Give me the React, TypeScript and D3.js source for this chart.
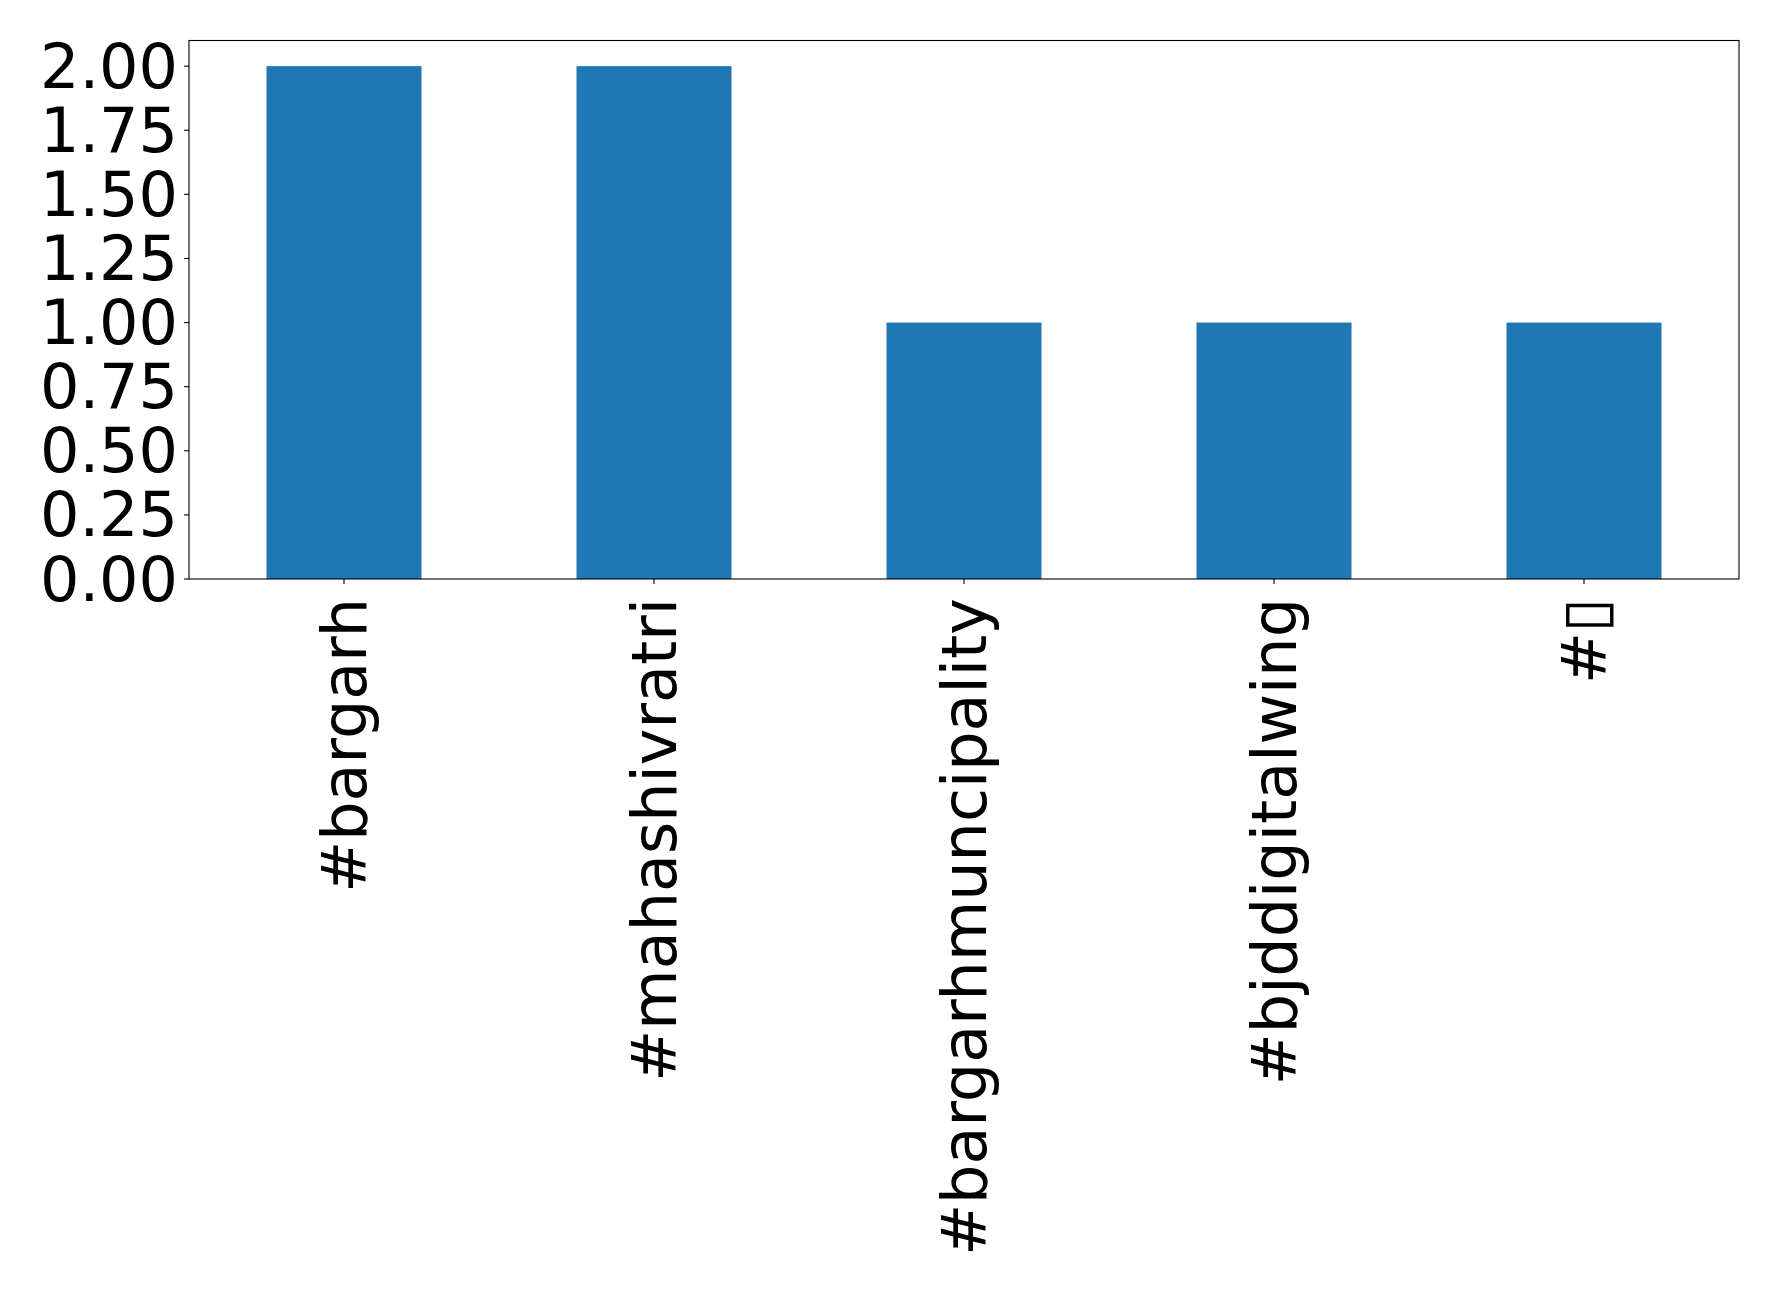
import React from "react";
import * as d3 from "d3";

const categories = ["#bargarh", "#mahashivratri", "#bargarhmuncipality", "#bjddigitalwing", "#\u25AF"];
const counts = [2, 2, 1, 1, 1];
const yTicks = [0, 0.25, 0.5, 0.75, 1.0, 1.25, 1.5, 1.75, 2.0];

const W = 1778;
const H = 1291;
const left = 189;
const right = 1739;
const top = 40.5;
const bottom = 579;
const FONT = 62;

export default function App() {
  const x = d3.scaleLinear().domain([-0.5, categories.length - 0.5]).range([left, right]);
  const y = d3.scaleLinear().domain([0, 2.1]).range([bottom, top]);
  const barW = 0.5;
  return (
    <svg
      width={W}
      height={H}
      style={{ position: "absolute", left: 0, top: 0, background: "#fff" }}
      fontFamily="DejaVu Sans"
    >
      <rect x={0} y={0} width={W} height={H} fill="#fff" />
      {counts.map((v, i) => (
        <rect
          key={i}
          x={x(i - barW / 2)}
          y={y(v)}
          width={x(i + barW / 2) - x(i - barW / 2)}
          height={y(0) - y(v)}
          fill="#1f77b4"
        />
      ))}
      <rect x={left} y={top} width={right - left} height={bottom - top} fill="none" stroke="#000" strokeWidth={1.1} />
      {yTicks.map((t) => (
        <g key={t}>
          <line x1={left - 4.9} x2={left} y1={y(t)} y2={y(t)} stroke="#000" strokeWidth={1.1} />
          <text x={left - 11} y={y(t)} textAnchor="end" dominantBaseline="central" fontSize={FONT} fill="#000">
            {d3.format(".2f")(t)}
          </text>
        </g>
      ))}
      {categories.map((c, i) => (
        <g key={c}>
          <line x1={x(i)} x2={x(i)} y1={bottom} y2={bottom + 4.9} stroke="#000" strokeWidth={1.1} />
          <text
            transform={`translate(${x(i)},${bottom + 19}) rotate(-90)`}
            textAnchor="end"
            dominantBaseline="central"
            fontSize={FONT}
            fill="#000"
          >
            {c}
          </text>
        </g>
      ))}
    </svg>
  );
}
